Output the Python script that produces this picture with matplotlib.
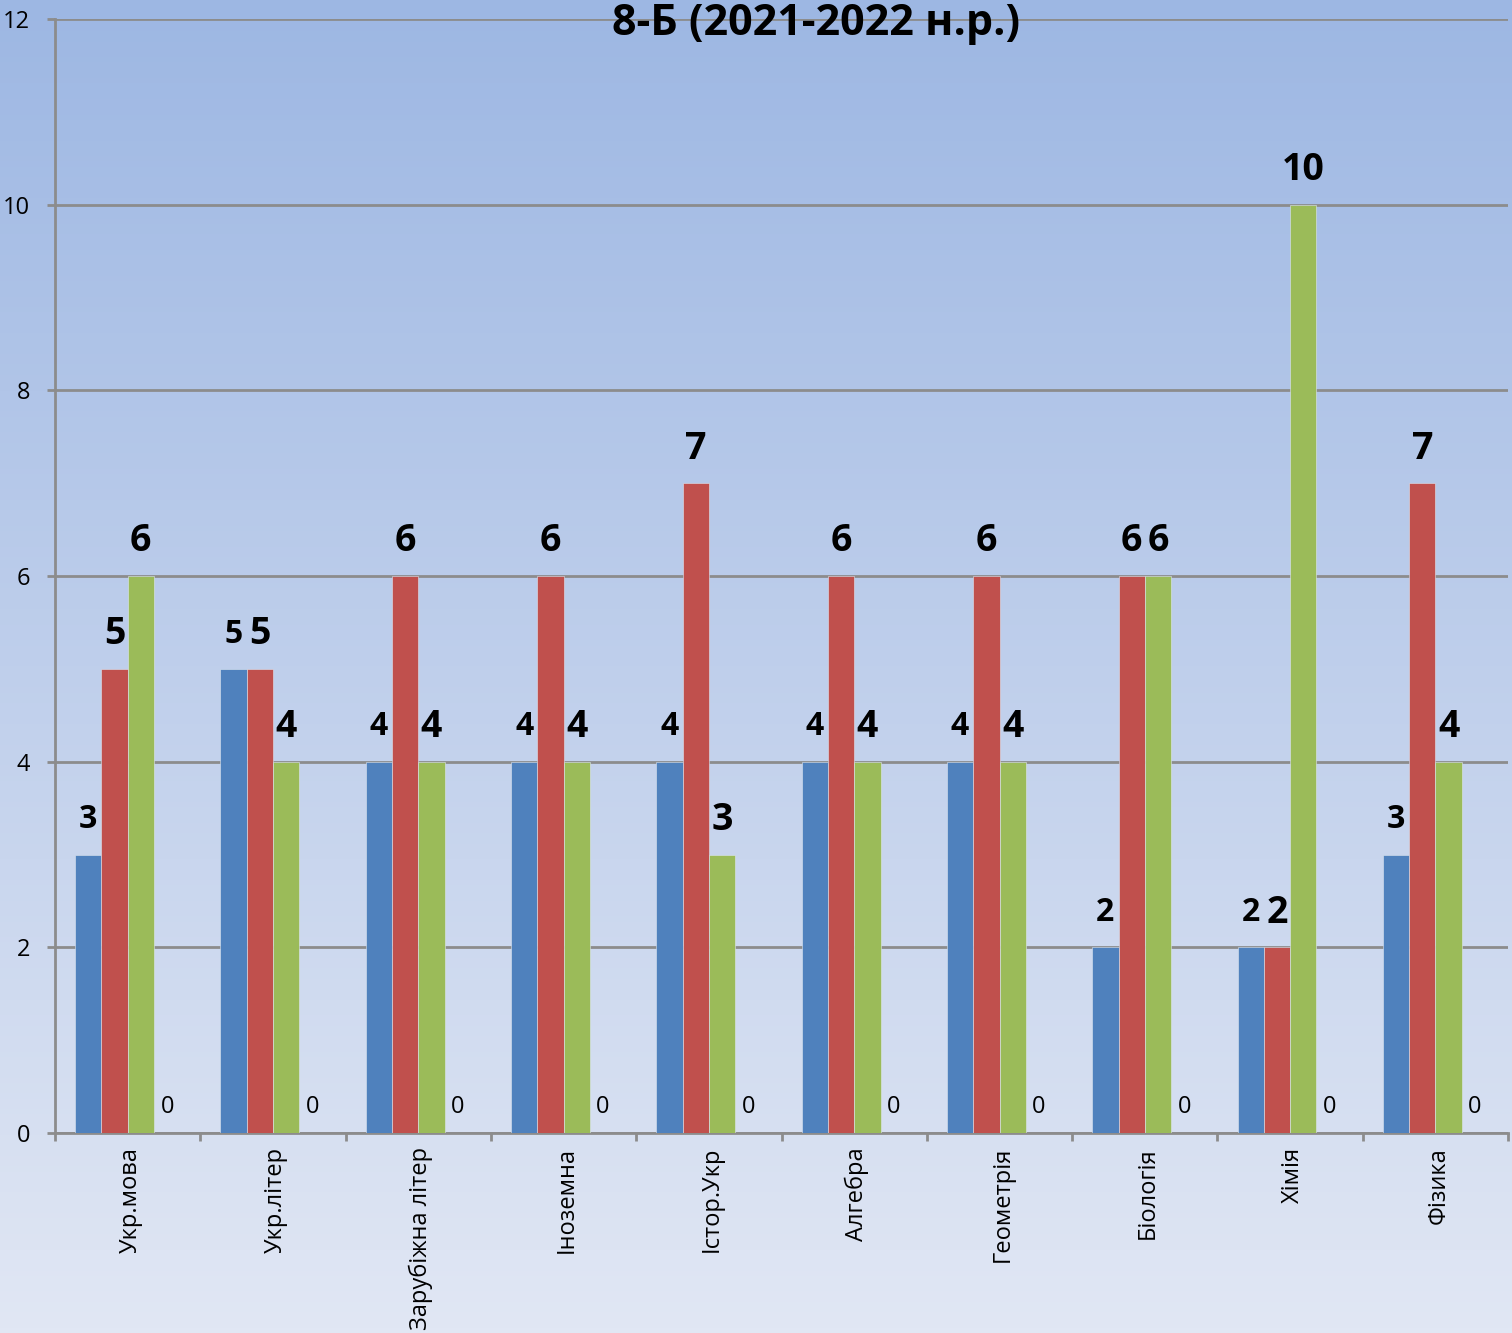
import numpy as np
import matplotlib.pyplot as plt

# дані
subjects = ['Укр.мова', 'Укр.літер', 'Зарубіжна літер', 'Іноземна', 'Істор.Укр',
            'Алгебра', 'Геометрія', 'Біологія', 'Хімія', 'Фізика']
blue_vals = [3, 5, 4, 4, 4, 4, 4, 2, 2, 3]
red_vals = [5, 5, 6, 6, 7, 6, 6, 6, 2, 7]
green_vals = [6, 4, 4, 4, 3, 4, 4, 6, 10, 4]
fourth_vals = [0, 0, 0, 0, 0, 0, 0, 0, 0, 0]
y_ticks = [0, 2, 4, 6, 8, 10, 12]

series = [blue_vals, red_vals, green_vals, fourth_vals]
colors = ['#4F81BD', '#C0504D', '#9BBB59', '#8064A2']

fig = plt.figure(figsize=(15.12, 13.33), dpi=100)

# фон з градієнтом
bg = fig.add_axes([0, 0, 1, 1], zorder=-10)
grad = np.linspace(0, 1, 256).reshape(-1, 1)
c_top = np.array([157, 183, 227]) / 255
c_bot = np.array([225, 231, 244]) / 255
img = c_top + (c_bot - c_top) * grad[:, :, None]
bg.imshow(img, aspect='auto', extent=[0, 1, 0, 1], origin='upper')
bg.axis('off')

ax = fig.add_axes([0.0364, 0.150, 0.961, 0.8357])
ax.patch.set_alpha(0)

x = np.arange(len(subjects))
w = 0.181
offsets = np.array([-1.5, -0.5, 0.5, 1.5]) * w

for i, vals in enumerate(series):
    ax.bar(x + offsets[i], vals, width=w, color=colors[i],
           edgecolor='#dde6f0', linewidth=0.4, zorder=3)
    for xi, v in zip(x + offsets[i], vals):
        if i == 3:
            ax.annotate(str(v), (xi, v), xytext=(0, 19), textcoords='offset points',
                        ha='center', va='center', fontsize=17, family='Open Sans')
        else:
            fs = 23 if i == 0 else 27
            ax.annotate(str(v), (xi, v), xytext=(0, 25), textcoords='offset points',
                        ha='center', va='center', fontsize=fs, fontweight='bold',
                        family='Open Sans')

ax.set_xlim(-0.5, len(subjects) - 0.5)
ax.set_ylim(0, 12)
ax.set_yticks(y_ticks)
ax.set_yticklabels([str(t) for t in y_ticks], fontsize=17, family='Open Sans')
ax.set_xticks(np.arange(len(subjects) + 1) - 0.5)
ax.set_xticklabels([])
ax.set_xticks(x + 0.02, minor=True)
ax.set_xticklabels(subjects, minor=True, rotation=90, fontsize=17, family='Open Sans',
                   va='top', ha='center')
ax.tick_params(axis='x', which='minor', length=0, pad=10)
ax.tick_params(axis='x', which='major', length=6, width=2, color='#8c8c8c')
ax.tick_params(axis='y', length=6, width=2, color='#8c8c8c', pad=12)

ax.yaxis.grid(True, color='#8c8c8c', linewidth=2, zorder=0)
ax.set_axisbelow(True)
for s in ['top', 'right']:
    ax.spines[s].set_visible(False)
for s in ['left', 'bottom']:
    ax.spines[s].set_color('#8c8c8c')
    ax.spines[s].set_linewidth(2)

fig.text(0.54, 0.982, '8-Б (2021-2022 н.р.)', ha='center', va='center',
         fontsize=31, fontweight='bold', family='Open Sans')

plt.savefig('out.png', dpi=100)
